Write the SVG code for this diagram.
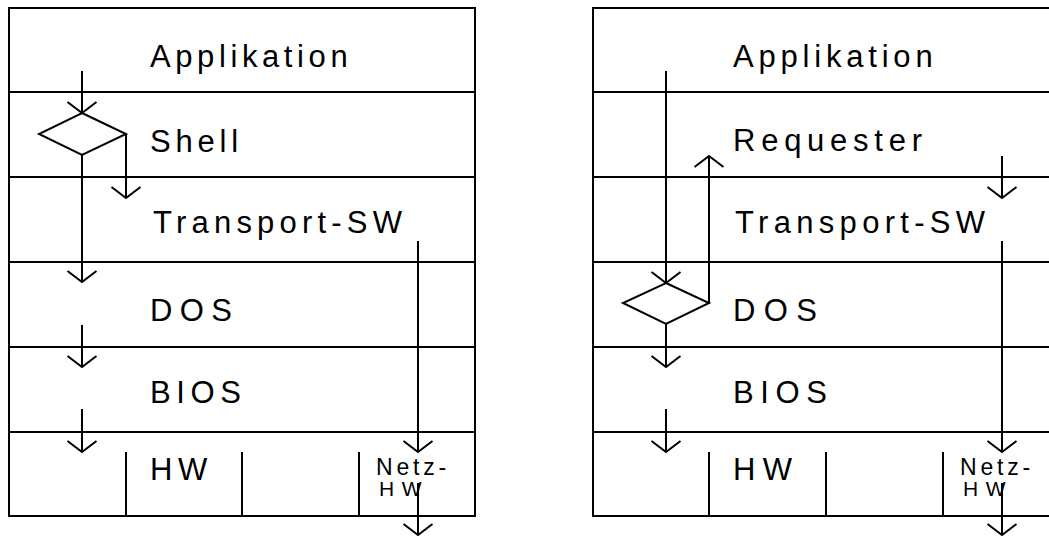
<svg xmlns="http://www.w3.org/2000/svg" width="1049" height="539" viewBox="0 0 1049 539">
<style>
.box{fill:none;stroke:#000;stroke-width:2}
.ln{fill:none;stroke:#000;stroke-width:2}
.t{font-family:"Liberation Sans",Arial,sans-serif;font-size:31px;fill:#000}
.s{font-family:"Liberation Sans",Arial,sans-serif;font-size:23px;fill:#000}
.s2{font-family:"Liberation Sans",Arial,sans-serif;font-size:21px;fill:#000}
</style>
<defs>
<marker id="chev" markerUnits="userSpaceOnUse" markerWidth="40" markerHeight="40" viewBox="-20 -20 40 40" refX="0" refY="0" orient="auto" overflow="visible">
<path d="M-11,-14.5 L0,0 L-11,14.5" fill="none" stroke="#000" stroke-width="2"/>
</marker>
</defs>
<rect width="1049" height="539" fill="#fff"/>

<g id="left-stack">
<g id="l-applikation"><rect class="box" x="9" y="8" width="466" height="84"/><text class="t" x="150" y="67" letter-spacing="4.6">Applikation</text></g>
<g id="l-shell"><rect class="box" x="9" y="92" width="466" height="85"/><text class="t" x="150" y="152" letter-spacing="4.8">Shell</text></g>
<g id="l-transport"><rect class="box" x="9" y="177" width="466" height="85"/><text class="t" x="153" y="233" letter-spacing="5.2">Transport-SW</text></g>
<g id="l-dos"><rect class="box" x="9" y="262" width="466" height="85"/><text class="t" x="150" y="321" letter-spacing="7.4">DOS</text></g>
<g id="l-bios"><rect class="box" x="9" y="347" width="466" height="85"/><text class="t" x="150" y="403" letter-spacing="5.6">BIOS</text></g>
<g id="l-hwrow"><rect class="box" x="9" y="432" width="466" height="84"/>
<line class="ln" x1="126" y1="452" x2="126" y2="516"/><line class="ln" x1="242" y1="452" x2="242" y2="516"/><line class="ln" x1="359" y1="452" x2="359" y2="516"/></g>
<g id="l-hw"><text class="t" x="150" y="480" letter-spacing="5.6">HW</text></g>
<g id="l-netzhw"><text class="s" x="376" y="475" letter-spacing="3.8">Netz-</text><text class="s2" x="379" y="496" letter-spacing="7.5">HW</text></g>
<g id="l-shell-decision"><polygon class="ln" points="82,113 126,134 82,155 39,134"/></g>
</g>

<g id="right-stack">
<g id="r-applikation"><rect class="box" x="593" y="8" width="470" height="84"/><text class="t" x="733" y="67" letter-spacing="4.8">Applikation</text></g>
<g id="r-requester"><rect class="box" x="593" y="92" width="470" height="85"/><text class="t" x="733" y="151" letter-spacing="5.75">Requester</text></g>
<g id="r-transport"><rect class="box" x="593" y="177" width="470" height="85"/><text class="t" x="735" y="233" letter-spacing="5.3">Transport-SW</text></g>
<g id="r-dos"><rect class="box" x="593" y="262" width="470" height="85"/><text class="t" x="733" y="321" letter-spacing="8.4">DOS</text></g>
<g id="r-bios"><rect class="box" x="593" y="347" width="470" height="85"/><text class="t" x="733" y="403" letter-spacing="6.6">BIOS</text></g>
<g id="r-hwrow"><rect class="box" x="593" y="432" width="470" height="84"/>
<line class="ln" x1="709" y1="452" x2="709" y2="516"/><line class="ln" x1="826" y1="452" x2="826" y2="516"/><line class="ln" x1="943" y1="452" x2="943" y2="516"/></g>
<g id="r-hw"><text class="t" x="733" y="480" letter-spacing="7.4">HW</text></g>
<g id="r-netzhw"><text class="s" x="960" y="475" letter-spacing="3.8">Netz-</text><text class="s2" x="963" y="496" letter-spacing="7.5">HW</text></g>
<g id="r-dos-decision"><polygon class="ln" points="666,283 709,303 666,324 623,303"/></g>
</g>

<g id="connectors">
<path class="ln" d="M82,71 L82,113" marker-end="url(#chev)"/>
<path class="ln" d="M126,134 L126,198" marker-end="url(#chev)"/>
<path class="ln" d="M82,155 L82,282" marker-end="url(#chev)"/>
<path class="ln" d="M82,325 L82,367" marker-end="url(#chev)"/>
<path class="ln" d="M82,409 L82,452" marker-end="url(#chev)"/>
<path class="ln" d="M418,241 L418,452" marker-end="url(#chev)"/>
<path class="ln" d="M418,483 L418,535" marker-end="url(#chev)"/>

<path class="ln" d="M666,71 L666,283" marker-end="url(#chev)"/>
<path class="ln" d="M709,303 L709,156" marker-end="url(#chev)"/>
<path class="ln" d="M666,324 L666,367" marker-end="url(#chev)"/>
<path class="ln" d="M666,409 L666,452" marker-end="url(#chev)"/>
<path class="ln" d="M1002,156 L1002,198" marker-end="url(#chev)"/>
<path class="ln" d="M1002,241 L1002,452" marker-end="url(#chev)"/>
<path class="ln" d="M1002,483 L1002,535" marker-end="url(#chev)"/>
</g>
</svg>
